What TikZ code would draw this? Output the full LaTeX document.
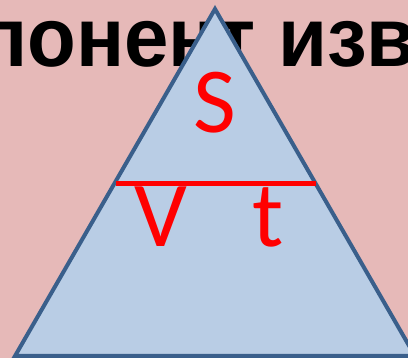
\documentclass[tikz,border=0pt]{standalone}
\usepackage{fontspec}
\newfontfamily\headfont{Liberation Sans}
\newfontfamily\letterfont{Carlito}
\usepackage{tikz}
\usetikzlibrary{positioning}
\definecolor{bgpink}{HTML}{E6B9B8}
\definecolor{trifill}{HTML}{B9CDE5}
\definecolor{triedge}{HTML}{3A5F8B}

\begin{document}
\begin{tikzpicture}[
    x=1pt, y=-1pt,
    head/.style={anchor=base west, inner sep=0pt, font=\headfont\bfseries\fontsize{84}{84}\selectfont},
    letter/.style={text=red, inner sep=0pt, anchor=base, font=\letterfont\fontsize{93}{93}\selectfont},
    bar/.style={draw=red, line width=5pt}
]
\useasboundingbox (0,0) rectangle (408,358);
\clip (0,0) rectangle (408,358);
\fill[bgpink] (0,0) rectangle (408,358);

\node[head] (title) at (-21,67) {\scalebox{0.95}[1]{понент изве}};

% triangle
\coordinate (top) at (215,9);
\coordinate (bl) at (15,356);
\coordinate (br) at (415,356);
\draw[triedge, fill=trifill, line width=4pt, line join=miter] (top) -- (bl) -- (br) -- cycle;

\coordinate (barl) at (116,184);
\coordinate (barr) at (316,184);
\draw[bar] (barl) -- (barr);

\node[letter] (s) at (215,133) {S};
\node[letter] (v) at (161,247) {V};
\node[letter] (t) at (268,247) {t};
\end{tikzpicture}
\end{document}
